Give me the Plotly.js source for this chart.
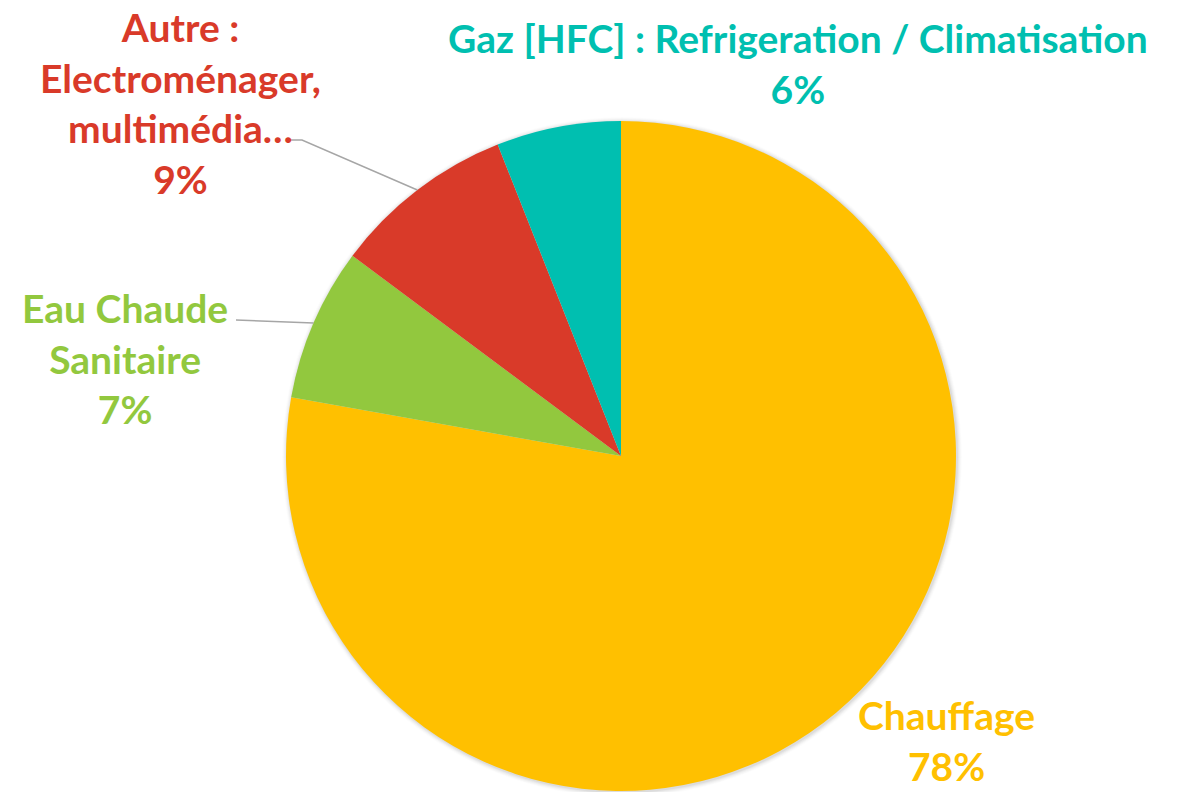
<!DOCTYPE html>
<html>
<head>
<meta charset="utf-8">
<script src="https://cdn.plot.ly/plotly-3.0.1.min.js"></script>
<style>html,body{margin:0;padding:0;background:#fff;}#chart{width:1181px;height:792px;}</style>
</head>
<body>
<div id="chart"></div>
<script>
// Data
const categories = ["Chauffage", "Eau Chaude Sanitaire", "Autre : Electroménager, multimédia…", "Gaz [HFC] : Refrigeration / Climatisation"];
const labelLines = [["Chauffage"], ["Eau Chaude", "Sanitaire"], ["Autre :", "Electroménager,", "multimédia…"], ["Gaz [HFC] : Refrigeration / Climatisation"]];
const values = [77.8, 7.4, 8.8, 6.0];
const colors = ["#FFC000", "#92C83E", "#D93A29", "#00BFB0"];

const W = 1181, H = 792;
const cx = 621, cy = 456, R = 335;
const font = "Lato, 'Open Sans', sans-serif";
const fs = 39;

const total = values.reduce((a, b) => a + b, 0);
const pct = values.map(v => Math.round(v / total * 100) + "%");

// label anchor positions (px)
const labelPos = [
  {x: 946, y: 740},
  {x: 125, y: 358},
  {x: 180, y: 103},
  {x: 798, y: 64}
];
const leaderFrom = [null, {x: 236, y: 320}, {x: 290, y: 140, bend: 302}, null];

const px = x => x / W;
const py = y => 1 - y / H;

const annotations = categories.map((c, i) => ({
  xref: 'paper', yref: 'paper',
  x: px(labelPos[i].x), y: py(labelPos[i].y),
  xanchor: 'center', yanchor: 'middle',
  text: labelLines[i].join('<br>') + '<br>' + pct[i],
  showarrow: false,
  align: 'center',
  font: {family: font, size: fs, color: colors[i], weight: 700}
}));

// leader lines, end point at slice mid-angle on the pie rim
const shapes = [];
let cum = 0;
values.forEach((v, i) => {
  const mid = (cum + v / 2) / total;
  cum += v;
  const lf = leaderFrom[i];
  if (!lf) return;
  const ang = mid * 2 * Math.PI; // clockwise from top
  const ex = cx + R * Math.sin(ang), ey = cy - R * Math.cos(ang);
  let path = `M ${px(lf.x)} ${py(lf.y)}`;
  if (lf.bend) path += ` L ${px(lf.bend)} ${py(lf.y)}`;
  path += ` L ${px(ex)} ${py(ey)}`;
  shapes.push({type: 'path', xref: 'paper', yref: 'paper', path: path,
    line: {color: '#A6A6A6', width: 1.5}});
});

// soft shadow rings behind pie
for (let k = 1; k <= 5; k++) {
  shapes.push({type: 'circle', xref: 'paper', yref: 'paper', layer: 'below',
    x0: px(cx - R - k + 1), x1: px(cx + R + k + 1), y0: py(cy + R + k + 1), y1: py(cy - R - k + 1),
    line: {width: 0}, fillcolor: 'rgba(0,0,0,' + (0.05 - k * 0.008).toFixed(3) + ')'});
}

const trace = {
  type: 'pie',
  labels: categories,
  values: values,
  sort: false,
  direction: 'clockwise',
  rotation: 0,
  marker: {colors: colors, line: {width: 0}},
  textinfo: 'none',
  hoverinfo: 'label+percent',
  domain: {x: [px(cx - R), px(cx + R)], y: [py(cy + R), py(cy - R)]}
};

const layout = {
  width: W, height: H,
  margin: {l: 0, r: 0, t: 0, b: 0},
  paper_bgcolor: '#ffffff',
  showlegend: false,
  annotations: annotations,
  shapes: shapes
};

Plotly.newPlot('chart', [trace], layout, {displayModeBar: false, staticPlot: true});
</script>
</body>
</html>
